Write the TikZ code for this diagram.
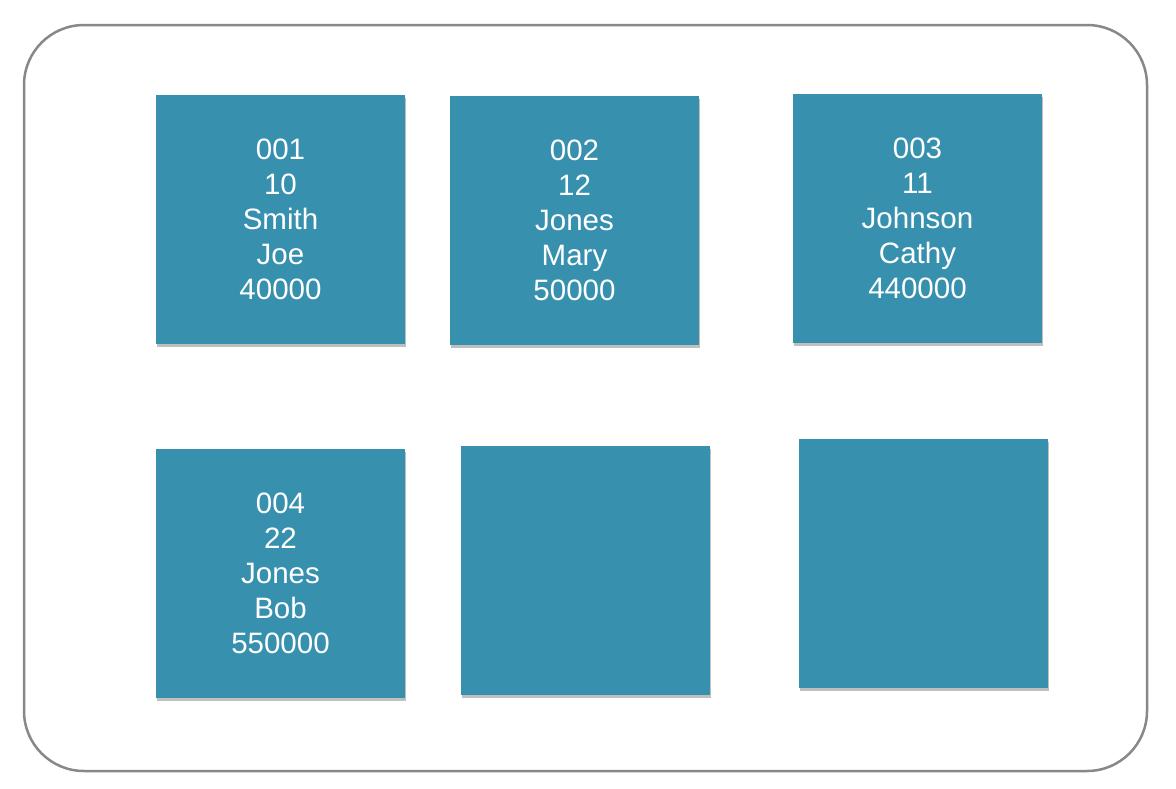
\documentclass[tikz,border=0pt]{standalone}
\usepackage{fontspec}
\setmainfont{Liberation Sans}
\usetikzlibrary{shadows}
\definecolor{cardteal}{HTML}{3791AE}
\definecolor{framegray}{HTML}{888888}
\tikzset{
    card/.style={fill=cardteal, minimum width=249pt, minimum height=249pt, inner sep=0pt,
        drop shadow={shadow xshift=1pt, shadow yshift=-3pt, opacity=.25, fill=black},
        text=white, align=center, font=\fontsize{29.5}{35}\selectfont}
}
\begin{document}
\begin{tikzpicture}[x=1pt,y=-1pt]
            \useasboundingbox (0,0) rectangle (1176,788);
            \draw[framegray, line width=2.5pt, rounded corners=60pt] (24,25) rectangle (1147,771);
            \node[card] (rec1) at (280.5,219) {001\\10\\Smith\\Joe\\40000};
            \node[card] (rec2) at (574.5,220.5) {002\\12\\Jones\\Mary\\50000};
            \node[card] (rec3) at (917.5,218) {003\\11\\Johnson\\Cathy\\440000};
            \node[card] (rec4) at (280.5,573.5) {004\\22\\Jones\\Bob\\550000};
            \node[card] (rec5) at (585.5,570.5) {};
            \node[card] (rec6) at (923.5,563.5) {};
        \end{tikzpicture}
\end{document}
